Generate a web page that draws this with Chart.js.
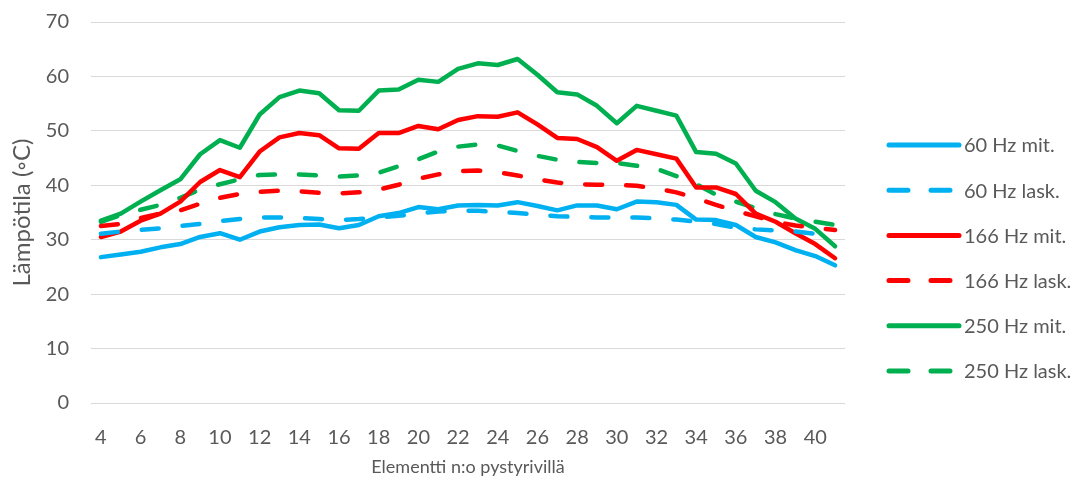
<!DOCTYPE html>
<html>
<head>
<meta charset="utf-8">
<script src="https://cdn.jsdelivr.net/npm/chart.js@4/dist/chart.umd.min.js"></script>
<style>
  html, body { margin: 0; padding: 0; background: #ffffff; }
  #wrap { width: 1078px; height: 486px; }
</style>
</head>
<body>
<div id="wrap"><canvas id="c" width="1078" height="486"></canvas></div>
<script>
// Element numbers along the vertical row
const elements = [4,5,6,7,8,9,10,11,12,13,14,15,16,17,18,19,20,21,22,23,24,25,26,27,28,29,30,31,32,33,34,35,36,37,38,39,40,41];

// Temperatures (°C), measured ("mit.") and calculated ("lask.")
const hz60Measured = [26.8,27.3,27.8,28.6,29.2,30.5,31.2,30.0,31.5,32.3,32.7,32.8,32.1,32.7,34.3,34.9,36.0,35.6,36.3,36.4,36.3,36.9,36.2,35.4,36.3,36.3,35.6,37.0,36.9,36.4,33.7,33.6,32.7,30.5,29.5,28.1,27.0,25.3];
const hz60Calculated = [31.1,31.5,31.8,32.1,32.5,32.9,33.4,33.8,34.1,34.1,34.0,33.8,33.6,33.8,34.1,34.4,34.8,35.2,35.3,35.3,35.1,34.9,34.6,34.3,34.2,34.1,34.1,34.1,33.9,33.7,33.3,32.9,32.2,31.9,31.7,31.5,31.1,30.9];
const hz166Measured = [30.5,31.5,33.5,34.8,37.0,40.6,42.8,41.5,46.2,48.8,49.6,49.2,46.8,46.7,49.6,49.6,50.9,50.3,52.0,52.7,52.6,53.4,51.2,48.7,48.5,47.0,44.5,46.5,45.7,44.9,39.6,39.6,38.4,34.8,33.3,31.2,29.2,26.6];
const hz166Calculated = [32.5,32.9,34.0,34.8,35.4,36.6,37.7,38.4,38.8,39.0,38.9,38.6,38.5,38.7,39.2,40.1,41.2,42.0,42.6,42.7,42.4,41.8,41.1,40.5,40.2,40.1,40.1,39.9,39.4,38.7,37.6,36.4,35.3,34.3,33.3,32.6,32.2,31.8];
const hz250Measured = [33.5,34.8,37.0,39.1,41.1,45.7,48.3,46.9,53.0,56.2,57.4,56.9,53.8,53.7,57.4,57.6,59.4,59.0,61.4,62.4,62.1,63.2,60.3,57.1,56.7,54.6,51.4,54.6,53.7,52.8,46.1,45.8,44.0,39.0,36.9,33.9,32.0,28.8];
const hz250Calculated = [33.3,34.5,35.5,36.4,37.7,39.2,40.2,41.1,41.9,42.0,42.0,41.8,41.6,41.8,42.3,43.5,44.8,46.2,47.1,47.5,47.3,46.3,45.4,44.7,44.3,44.1,44.1,43.6,43.0,41.7,40.2,38.3,37.0,35.8,34.7,33.9,33.3,32.7];

const seriesNames = ["60 Hz mit.","60 Hz lask.","166 Hz mit.","166 Hz lask.","250 Hz mit.","250 Hz lask."];

const BLUE = "#00B0F0", RED = "#FF0000", GREEN = "#00B050";
const DASH = [17, 24];
const FONT = "Lato";
const TEXT = "#595959";

function series(label, data, color, dashed) {
  return {
    label, data,
    borderColor: color,
    backgroundColor: color,
    borderWidth: 4.5,
    borderDash: dashed ? DASH : [],
    borderCapStyle: "round",
    borderJoinStyle: "round",
    pointRadius: 0,
    pointHoverRadius: 0,
    tension: 0,
    fill: false
  };
}

// Legend drawn on the right side: line sample followed by the series name
const sideLegend = {
  id: "sideLegend",
  afterDraw(chart) {
    const ctx = chart.ctx;
    const x0 = 889, len = 70, tx = 964;
    const yStart = 145, step = 45.2;
    ctx.save();
    ctx.font = "20px " + FONT;
    ctx.textBaseline = "middle";
    chart.data.datasets.forEach((ds, i) => {
      const y = yStart + i * step;
      ctx.beginPath();
      ctx.strokeStyle = ds.borderColor;
      ctx.lineWidth = 5;
      ctx.lineCap = "round";
      ctx.setLineDash(ds.borderDash.length ? [19, 23] : []);
      ctx.moveTo(x0, y);
      ctx.lineTo(x0 + len, y);
      ctx.stroke();
      ctx.setLineDash([]);
      ctx.fillStyle = TEXT;
      ctx.fillText(ds.label, tx, y + 1);
    });
    ctx.restore();
  }
};

new Chart(document.getElementById("c"), {
  type: "line",
  data: {
    labels: elements,
    datasets: [
      series(seriesNames[0], hz60Measured, BLUE, false),
      series(seriesNames[1], hz60Calculated, BLUE, true),
      series(seriesNames[2], hz166Measured, RED, false),
      series(seriesNames[3], hz166Calculated, RED, true),
      series(seriesNames[4], hz250Measured, GREEN, false),
      series(seriesNames[5], hz250Calculated, GREEN, true)
    ]
  },
  options: {
    responsive: false,
    animation: false,
    events: [],
    layout: { padding: { top: 0, right: 233, bottom: 0, left: 0 } },
    plugins: { legend: { display: false }, tooltip: { enabled: false } },
    scales: {
      x: {
        type: "category",
        offset: true,
        grid: { display: false, drawTicks: false },
        border: { display: false },
        ticks: {
          autoSkip: false,
          maxRotation: 0,
          padding: 23,
          color: TEXT,
          font: { family: FONT, size: 20 },
          callback: function (v, i) { return i % 2 === 0 ? this.getLabelForValue(v) : ""; }
        },
        title: {
          display: true,
          text: "Elementti n:o pystyrivillä",
          color: TEXT,
          font: { family: FONT, size: 18 },
          padding: { top: -16.8, bottom: 8.2 }
        }
      },
      y: {
        min: 0, max: 70,
        grid: { color: "#d9d9d9", lineWidth: 1, drawTicks: false },
        border: { display: false },
        ticks: {
          stepSize: 10,
          padding: 22,
          color: TEXT,
          font: { family: FONT, size: 20, lineHeight: 0 }
        },
        title: {
          display: true,
          text: "Lämpötila (◦C)",
          color: TEXT,
          font: { family: FONT, size: 24 },
          padding: { top: 7.6, bottom: -12.6 }
        }
      }
    }
  },
  plugins: [sideLegend]
});
</script>
</body>
</html>
